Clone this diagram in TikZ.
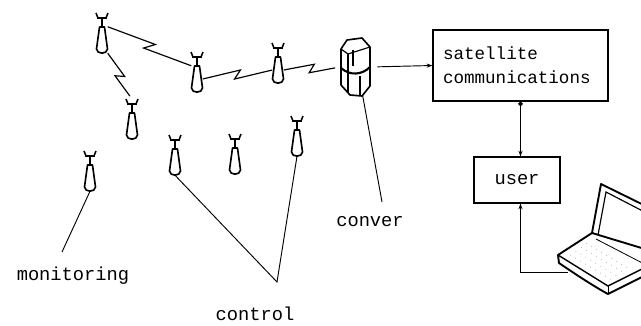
\documentclass[tikz,border=0pt]{standalone}
\usepackage{fontspec}
\setmonofont{Liberation Mono}
\usepackage{tikz}
\usetikzlibrary{arrows.meta, positioning, calc}
\newcommand{\tagfont}{\fontsize{16}{20.4}\selectfont\ttfamily}
\newcommand{\boxfont}{\fontsize{15}{20.4}\selectfont\ttfamily}
% radio link with a lightning break in the middle
\newcommand{\zap}[3][]{%
  \draw[link,#1] (#2) -- ($(#2)!0.55!(#3)!3.5pt!90:(#3)$)
    -- ($(#2)!0.45!(#3)!3.5pt!-90:(#3)$) -- (#3);}
\tikzset{
  link/.style={line width=1pt},
  wire/.style={line width=0.8pt},
  arrow/.style={-{Stealth[length=5pt,width=3.5pt]}, line width=0.8pt},
  box/.style={rectangle, draw, line width=0.9pt, font=\boxfont},
  tag/.style={font=\tagfont, inner sep=0pt, anchor=base},
  thickline/.style={line width=1.4pt, fill=white, line join=round},
  pics/tower/.style={code={
    % antenna head and mast
    \draw[line width=1.5pt] (0,-13) -- (0,-22);
    \draw[line width=2.2pt] (-5,-22) -- (5,-22);
    \draw[line width=1.3pt] (-6,-27) -- (-4,-22) (6,-27) -- (4,-22);
    % body
    \draw[thickline] (-2.5,-13) -- (2.5,-13) -- (5.5,9)
      .. controls (5.5,14.5) and (-5.5,14.5) .. (-5.5,9) -- cycle;
    \node[inner sep=0, minimum width=0.33cm, minimum height=0.78cm] (-body) at (0,0) {};
    \coordinate (-top) at (0,-27);
  }}
}

\begin{document}
\begin{tikzpicture}[x=0.03cm, y=-0.03cm]
  \useasboundingbox (0,0) rectangle (641,325);
  \clip (0,0) rectangle (641,325);

  % towers
  \pic (t1) at (102,40) {tower};
  \pic (t2) at (197,79) {tower};
  \pic (t3) at (278,70) {tower};
  \pic (t4) at (132,126) {tower};
  \pic (t5) at (90,178) {tower};
  \pic (t6) at (175,162) {tower};
  \pic (t7) at (235,161) {tower};
  \pic (t8) at (297,143) {tower};

  % converter
  \node[inner sep=0, minimum width=0.9cm, minimum height=1.7cm] (conv) at (355,67) {};
  \draw[thickline] (341,49) -- (347,40) -- (362,38) -- (370,47) -- (370,86)
    -- (362,96) -- (350,95) -- (341,85) -- cycle;
  \draw[line width=1pt] (341,49) -- (348,54) -- (370,47);
  \draw[line width=1pt] (348,54) -- (348,93);
  \draw[line width=1pt] (353,50) -- (353,66);
  \draw[line width=1.8pt] (341,68) .. controls (350,76) and (362,75) .. (370,67);
  \draw[line width=1pt] (360,76) -- (360,96);

  % radio links
  \zap{t1-body.north east}{t2-body.north west}
  \zap[shorten >=3pt]{t1-body.south east}{t4-top}
  \zap{t2-body.east}{t3-body.west}
  \zap[shorten >=4pt]{t3-body.east}{conv.west}

  % boxes
  \node[box, text width=4.65cm, inner xsep=0.3cm, align=left,
        minimum height=2.13cm] (sat) at (520.5,65.5)
        {satellite\\communications};
  \node[box, font=\tagfont, minimum width=2.58cm, minimum height=1.38cm] (user) at (517,180) {user};
  \draw[wire, {Circle[length=4pt]}-{Stealth[length=5pt,width=3.5pt]}]
    (sat.south) -- (sat.south |- user.north);
  \draw[arrow, shorten <=6pt] (conv.east) -- (sat.west);

  % laptop
  \coordinate (lapin) at (568,272);
  \draw[line width=1.6pt, fill=white, line join=round]
    (592,233) -- (601,184) -- (662,214) -- (652,263) -- cycle;
  \draw[line width=1pt] (598,235) -- (606,192) -- (662,221);
  \draw[line width=1.6pt, fill=white, line join=round]
    (592,233) -- (558,255) -- (559,263) .. controls (575,274) and (595,287) .. (608,294)
    -- (668,264) -- (668,256) -- cycle;
  \draw[line width=1.2pt] (558,255) -- (608,286) -- (668,256);
  \draw[line width=0.8pt] (608,286) -- (608,294);
  \draw[line width=0.7pt] (596,239) -- (652,268);
  \foreach \i in {1,...,9}
    \foreach \j in {1,...,4}
      \fill[gray!70] ($(560,256)+{0.1*\i}*(50,30)+{0.17*\j}*(32,-23)$) circle (0.45pt);
  \draw[arrow] (lapin) -| (sat.south |- user.south);

  % labels and leaders
  \coordinate (monpt) at (62,252);
  \coordinate (ctlpt) at (277,282);
  \coordinate (convpt) at (382,202);
  \node[tag] (mon) at (73,280) {monitoring};
  \node[tag] (ctl) at (255,320) {control};
  \node[tag] (cvt) at (370,226) {conver};
  \draw[wire] (t5-body.south) -- (monpt);
  \draw[wire] (t6-body.south) -- (ctlpt) -- (t8-body.south);
  \draw[wire] (conv.-75) -- (convpt);
\end{tikzpicture}
\end{document}
